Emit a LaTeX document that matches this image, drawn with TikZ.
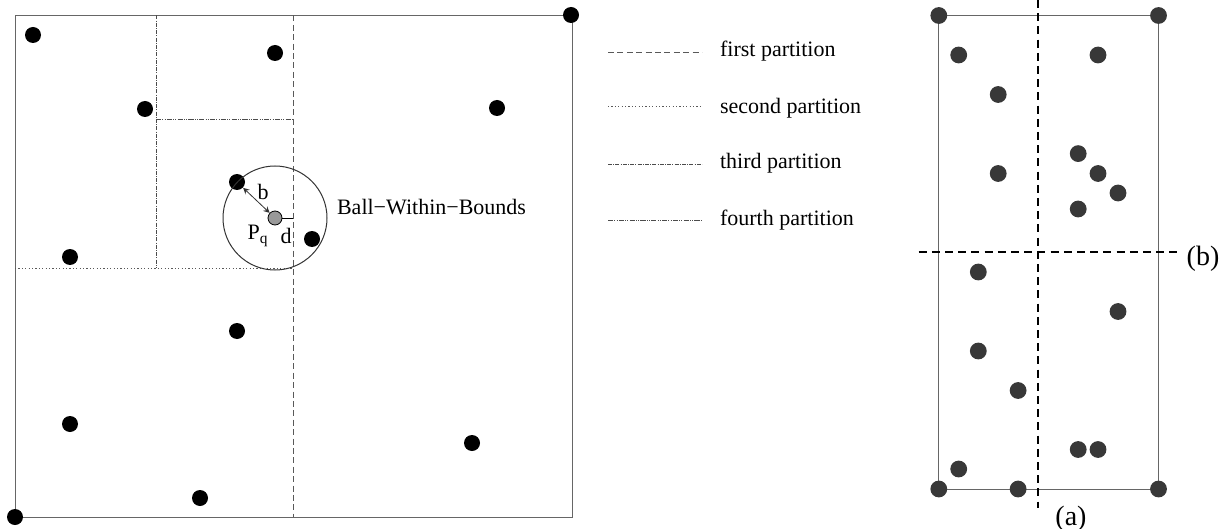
\documentclass[tikz,border=0pt]{standalone}
\usepackage{fontspec}
\setmainfont{Liberation Serif}
\usetikzlibrary{arrows}
\NewDocumentCommand\DrawPt{O{blackdot}mmm}%
{%
\node[#1] (#2) at ({#3},{#4}) {};%
}

\begin{document}
\begin{tikzpicture}[x=0.5pt,y=-0.5pt,
  font=\fontsize{11}{13}\selectfont,
  blackdot/.style={circle,fill=black,inner sep=0pt,minimum size=8pt},
  greydot/.style={circle,fill=black!78,inner sep=0pt,minimum size=8.4pt},
  frame/.style={draw=black!60,line width=0.5pt},
  firstpart/.style={black!65,line width=0.5pt,dash pattern=on 3pt off 1.7pt},
  secondpart/.style={black!65,line width=0.5pt,dash pattern=on 0.6pt off 1.1pt},
  thirdpart/.style={black!70,line width=0.5pt,dash pattern=on 2pt off 0.6pt on 0.5pt off 0.6pt},
  fourthpart/.style={black!70,line width=0.5pt,dash pattern=on 2.6pt off 0.6pt on 0.5pt off 0.6pt on 0.5pt off 0.6pt},
  cutline/.style={black,line width=0.8pt,dash pattern=on 4pt off 2.6pt}]
\useasboundingbox (0,0) rectangle (1224,529);
% left square and its partitions
\draw[frame] (15,15.5) rectangle (572,517);
\draw[firstpart] (293,15.5) -- (293,517);
\draw[secondpart] (15,268) -- (293,268);
\draw[thirdpart] (156,15.5) -- (156,268);
\draw[fourthpart] (156,120) -- (293,120);
\DrawPt{p1}{33}{35}
\DrawPt{p2}{275}{53}
\DrawPt{p3}{145}{109}
\DrawPt{p4}{497}{108}
\DrawPt{p5}{571}{15}
\DrawPt{p6}{70}{257}
\DrawPt{p7}{237}{331}
\DrawPt{p8}{70}{424}
\DrawPt{p9}{472}{443}
\DrawPt{p10}{200}{498}
\DrawPt{p11}{15}{517}
\DrawPt{p12}{312}{239}
\DrawPt{nn}{237}{182}
% query point and its ball
\node[circle,draw=black!80,line width=0.5pt,inner sep=0pt,minimum size=52pt] (ball) at (275,218) {};
\node[circle,draw=black,fill=black!40,line width=0.4pt,inner sep=0pt,minimum size=7pt] (pq) at (275,218) {};
\coordinate (dend) at (293,218);
\draw[black,line width=0.5pt] (pq.east) -- (dend);
\draw[black!80,line width=0.4pt,stealth-stealth] (nn) -- (pq);
\node (blbl) at (263,192) {b};
\node (pqlbl) at (258,236) {P\textsubscript{q}};
\node (dlbl) at (286,236) {d};
\node[anchor=west] (bwb) at (330,207) {Ball−Within−Bounds};
% legend
\draw[firstpart] (608,53) -- (702,53);
\draw[secondpart] (608,107) -- (702,107);
\draw[thirdpart] (608,165) -- (702,165);
\draw[fourthpart] (608,220) -- (702,220);
\node[anchor=base west] (leg1) at (713,57) {first partition};
\node[anchor=base west] (leg2) at (713,114) {second partition};
\node[anchor=base west] (leg3) at (713,169) {third partition};
\node[anchor=base west] (leg4) at (713,226) {fourth partition};
% right panel
\draw[frame] (938.8,15.5) rectangle (1158.5,489);
\draw[cutline] (1037.7,0) -- (1037.7,508);
\draw[cutline] (918.6,252) -- (1178.8,252);
\DrawPt[greydot]{r1}{938.8}{15.5}
\DrawPt[greydot]{r2}{1158.5}{15.5}
\DrawPt[greydot]{r3}{958.7}{55}
\DrawPt[greydot]{r4}{1098}{55}
\DrawPt[greydot]{r5}{998.2}{94.5}
\DrawPt[greydot]{r6}{1078.2}{153.6}
\DrawPt[greydot]{r7}{998.2}{173.5}
\DrawPt[greydot]{r8}{1098}{173.5}
\DrawPt[greydot]{r9}{1118}{193}
\DrawPt[greydot]{r10}{1078.2}{209}
\DrawPt[greydot]{r11}{978.3}{272}
\DrawPt[greydot]{r12}{1118}{311.5}
\DrawPt[greydot]{r13}{978.3}{351}
\DrawPt[greydot]{r14}{1018.1}{390.5}
\DrawPt[greydot]{r15}{1078.2}{449.5}
\DrawPt[greydot]{r16}{1098}{449.5}
\DrawPt[greydot]{r17}{958.7}{469}
\DrawPt[greydot]{r18}{938.8}{489}
\DrawPt[greydot]{r19}{1018.1}{489}
\DrawPt[greydot]{r20}{1158.5}{489}
\node[font=\fontsize{14}{16}\selectfont] (blab) at (1203,259) {(b)};
\node[font=\fontsize{14}{16}\selectfont] (alab) at (1071,519) {(a)};
\end{tikzpicture}
\end{document}
